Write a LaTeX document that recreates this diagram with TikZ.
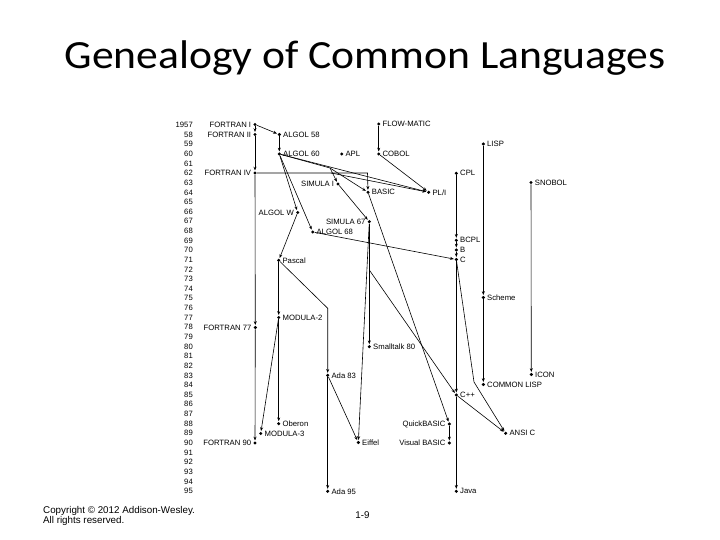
\documentclass[tikz,border=0pt]{standalone}
\usepackage{fontspec}
\setmainfont{Liberation Sans}
\newfontfamily\titlefont{Carlito}
\usetikzlibrary{arrows.meta}
\newcommand\langR[4]{\node[dot,label={[lang,label distance=0.8pt]right:#4}] (#1) at (#2,#3) {};}
\newcommand\langL[4]{\node[dot,label={[lang,label distance=0.8pt]left:#4}] (#1) at (#2,#3) {};}
\begin{document}
\begin{tikzpicture}[x=1pt,y=-1pt,
  dot/.style={circle,fill=black,inner sep=0pt,minimum size=3.4pt},
  lang/.style={font=\fontsize{7.7}{8}\selectfont,inner sep=1pt},
  yr/.style={font=\fontsize{7.7}{8}\selectfont,anchor=east,inner sep=0pt},
  link/.style={-{Stealth[length=3.8pt,width=3pt]},line width=0.6pt,shorten >=0.6pt},
  plain/.style={line width=0.6pt}
]
\useasboundingbox (0,0) rectangle (720,540);

% title
\node[font=\titlefont\fontsize{40}{44}\selectfont,anchor=base,xscale=1.09] (title) at (365,69) {Genealogy of Common Languages};

% years
\node[yr] (y57) at (193,125) {1957};
\foreach \i in {58,...,95} {
  \node[yr] (y\i) at (193,{125+(\i-57)*9.632}) {\i};
}

% languages
\langL{F1}{255}{124.5}{FORTRAN I}
\langL{F2}{255}{134.5}{FORTRAN II}
\langR{A58}{279.3}{134.5}{ALGOL 58}
\langR{A60}{279.3}{154}{ALGOL 60}
\langR{APL}{341.7}{154}{APL}
\langR{FM}{378.7}{124}{FLOW-MATIC}
\langR{COBOL}{378.7}{154}{COBOL}
\langR{LISP}{483.3}{144}{LISP}
\langL{F4}{255}{173}{FORTRAN IV}
\langR{CPL}{456.3}{173.3}{CPL}
\langL{SIMI}{338}{184}{SIMULA I}
\langR{SNOBOL}{531}{182.5}{SNOBOL}
\langR{BASIC}{368}{192.3}{BASIC}
\langR{PLI}{428.7}{192.3}{PL/I}
\langL{AW}{297.7}{212.5}{ALGOL W}
\langL{S67}{369.3}{221.7}{SIMULA 67}
\langR{A68}{312.7}{232}{ALGOL 68}
\langR{BCPL}{456.3}{240.3}{BCPL}
\langR{B}{456.3}{250}{B}
\langR{C}{456.3}{259.5}{C}
\langR{Pascal}{278.7}{260.3}{Pascal}
\langR{Scheme}{483.3}{297.5}{Scheme}
\langR{M2}{278.7}{317.5}{MODULA-2}
\langL{F77}{255.3}{327.5}{FORTRAN 77}
\langR{ST}{369.3}{346.7}{Smalltalk 80}
\langR{ICON}{531.3}{374.5}{ICON}
\langR{Ada83}{327.7}{375.3}{Ada 83}
\langR{CL}{483.3}{384.5}{COMMON LISP}
\langR{Cpp}{456.3}{395}{C++}
\langR{Oberon}{278.7}{423.7}{Oberon}
\langL{QB}{449.3}{424}{QuickBASIC}
\langR{ANSIC}{505.7}{433.3}{ANSI C}
\langR{M3}{260.7}{433.5}{MODULA-3}
\langL{F90}{255}{443}{FORTRAN 90}
\langR{Eiffel}{358.3}{442.5}{Eiffel}
\langL{VB}{449.3}{443}{Visual BASIC}
\langR{Ada95}{327.7}{491.3}{Ada 95}
\langR{Java}{456.3}{491.3}{Java}

% junction points
\coordinate (jF1) at (331,173);
\coordinate (jF2) at (367.5,173);
\coordinate (jA) at (330,168);
\coordinate (jP) at (327.7,308.3);
\coordinate (jS) at (369.3,270);
\coordinate (jC) at (474,382);

% connectors
\draw[link] (F1) -- (F2);
\draw[link] (F1) -- (A58);
\draw[link] (F2) -- (F4);
\draw[link] (A58) -- (A60);
\draw[link] (FM) -- (COBOL);
\draw[link] (F4) -- (F77);
\draw[link] (F77) -- (F90);
\draw[link] (F4) -- (jF2) -- (BASIC);
\draw[link] (jF1) -- (PLI);
\draw[link] (A60) -- (PLI);
\draw[link] (COBOL) -- (PLI);
\draw[link] (A60) -- (jA) -- (SIMI);
\draw[link] (jA) -- (BASIC);
\draw[link] (A60) -- (AW);
\draw[link] (A60) -- (A68);
\draw[link] (SIMI) -- (S67);
\draw[link] (AW) -- (Pascal);
\draw[link] (A68) -- (C);
\draw[link] (CPL) -- (BCPL);
\draw[link] (BCPL) -- (B);
\draw[link] (B) -- (C);
\draw[link] (LISP) -- (Scheme);
\draw[link] (Scheme) -- (CL);
\draw[link] (SNOBOL) -- (ICON);
\draw[link] (Pascal) -- (M2);
\draw[link] (Pascal) -- (jP) -- (Ada83);
\draw[link] (M2) -- (Oberon);
\draw[link] (M2) -- (M3);
\draw[link] (S67) -- (ST);
\draw[link] (jS) -- (Cpp);
\draw[link] (S67) -- (Eiffel);
\draw[link] (BASIC) -- (QB);
\draw[link] (QB) -- (VB);
\draw[link] (C) -- (Cpp);
\draw[link] (C) -- (jC) -- (ANSIC);
\draw[link] (Cpp) -- (ANSIC);
\draw[link] (Cpp) -- (Java);
\draw[link] (Ada83) -- (Ada95);
\draw[link] (Ada83) -- (Eiffel);

% footer
\node[anchor=west,align=left,inner sep=0pt,font=\fontsize{9.8}{10.7}\selectfont] (copy) at (43,516) {Copyright © 2012 Addison-Wesley.\\All rights reserved.};
\node[inner sep=0pt,font=\fontsize{9.8}{11}\selectfont] (page) at (362.5,515) {1-9};
\end{tikzpicture}
\end{document}
